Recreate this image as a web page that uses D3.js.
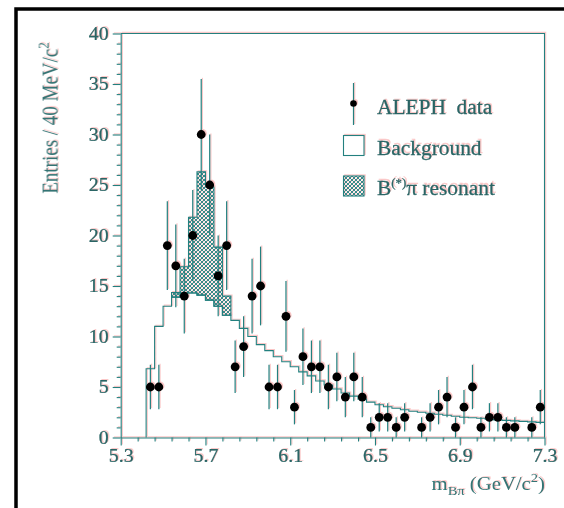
<!DOCTYPE html>
<html><head><meta charset="utf-8">
<script src="https://cdn.jsdelivr.net/npm/d3@7"></script>
<style>body{margin:0;background:#fff}svg{display:block}</style>
</head><body>
<script>
// ---------- data ----------
const xTicks = [5.3, 5.7, 6.1, 6.5, 6.9, 7.3];
const xTickLabels = ["5.3", "5.7", "6.1", "6.5", "6.9", "7.3"];
const yTicks = [0, 5, 10, 15, 20, 25, 30, 35, 40];
const binWidth = 0.04;

const dataMass = [5.44,5.48,5.52,5.56,5.60,5.64,5.68,5.72,5.76,5.80,5.84,5.88,5.92,5.96,6.00,6.04,6.08,6.12,6.16,6.20,6.24,6.28,6.32,6.36,6.40,6.44,6.48,6.52,6.56,6.60,6.64,6.72,6.76,6.80,6.84,6.88,6.92,6.96,7.00,7.04,7.08,7.12,7.16,7.24,7.28];
const dataCounts = [5,5,19,17,14,20,30,25,16,19,7,9,14,15,5,5,12,3,8,7,7,5,6,4,6,4,1,2,2,1,2,1,2,3,4,1,3,5,1,2,2,1,1,1,3];
const dataErrors = [2.2,2.2,4.4,4.1,3.7,4.5,5.5,5.0,4.0,4.4,2.6,3.0,3.7,3.9,2.2,2.2,3.5,1.7,2.8,2.6,2.6,2.2,2.4,2.0,2.4,2.0,1.0,1.4,1.4,1.0,1.4,1.0,1.4,1.7,2.0,1.0,1.7,2.2,1.0,1.4,1.4,1.0,1.0,1.0,1.7];

const bgLow = [5.42,5.46,5.50,5.54,5.58,5.62,5.66,5.70,5.74,5.78,5.82,5.86,5.90,5.94,5.98,6.02,6.06,6.10,6.14,6.18,6.22,6.26,6.30,6.34,6.38,6.42,6.46,6.50,6.54,6.58,6.62,6.66,6.70,6.74,6.78,6.82,6.86,6.90,6.94,6.98,7.02,7.06,7.10,7.14,7.18,7.22,7.26];
const bgValues = [6.8,11.0,13.0,13.9,14.3,14.3,14.1,13.6,13.0,12.1,11.6,10.8,10.0,9.2,8.6,8.0,7.5,7.0,6.5,6.1,5.6,5.2,4.8,4.4,4.1,3.8,3.5,3.25,3.05,2.9,2.75,2.6,2.5,2.4,2.3,2.2,2.1,2.0,1.95,1.9,1.8,1.75,1.7,1.65,1.6,1.55,1.5];

const resLow = [5.54,5.58,5.62,5.66,5.70,5.74,5.78];
const resValues = [0.45,2.6,7.5,12.2,11.2,5.85,1.9];

const legendLabels = ["ALEPH  data", "Background", "resonant"];

// ---------- setup ----------
const W = 564, H = 508;
const teal = "#23807f", textCol = "#2a6565", titleCol = "#347474";
const svg = d3.select("body").append("svg").attr("width", W).attr("height", H);
const defs = svg.append("defs");
const f = defs.append("filter").attr("id", "redify")
  .attr("x", "-5%").attr("y", "-5%").attr("width", "110%").attr("height", "110%");
f.append("feColorMatrix").attr("type", "matrix")
  .attr("values", "0 0 0 0 0.93  0 0 0 0 0.36  0 0 0 0 0.36  0 0 0 0.6 0");
const pat = defs.append("pattern").attr("id", "hatch").attr("patternUnits", "userSpaceOnUse")
  .attr("width", 4).attr("height", 4);
pat.append("path").attr("d", "M0,0 L4,4 M4,0 L0,4 M-1,3 L1,5 M3,-1 L5,1 M3,5 L5,3 M-1,1 L1,-1")
  .attr("stroke", teal).attr("stroke-width", 0.9);

// red misregistration copy
svg.append("use").attr("href", "#main").attr("transform", "translate(1.2,-1.1)").attr("filter", "url(#redify)");
const g = svg.append("g").attr("id", "main");

const x = d3.scaleLinear().domain([5.3, 7.3]).range([120.7, 544.5]);
const y = d3.scaleLinear().domain([0, 40]).range([437.5, 33.5]);

// frame top/right
g.append("path").attr("d", `M${x(5.3)},${y(40)}H${x(7.3)}V${y(0)}`)
  .attr("fill", "none").attr("stroke", teal).attr("stroke-width", 1.1);

// axes
const font = "'Liberation Serif', 'Times New Roman', serif";
const yMinor = d3.range(0, 41, 1).filter(v => v % 5 !== 0);
const xMinor = d3.range(0, 26).map(i => 5.3 + i * 0.08).filter((v, i) => i % 5 !== 0);

const yAxisG = g.append("g").attr("transform", `translate(${x(5.3)},0)`);
yAxisG.append("g").call(d3.axisLeft(y).tickValues(yMinor).tickSize(4).tickSizeOuter(0).tickFormat(""))
  .call(s => s.select(".domain").remove());
yAxisG.append("g").call(d3.axisLeft(y).tickValues(yTicks).tickSize(8).tickSizeOuter(0).tickPadding(3).tickFormat(d3.format("d")));
const xAxisG = g.append("g").attr("transform", `translate(0,${y(0)})`);
xAxisG.append("g").call(d3.axisBottom(x).tickValues(xMinor).tickSize(4).tickSizeOuter(0).tickFormat(""))
  .call(s => s.select(".domain").remove());
xAxisG.append("g").call(d3.axisBottom(x).tickValues(xTicks).tickSize(8).tickSizeOuter(0).tickPadding(4)
  .tickFormat((d, i) => xTickLabels[i]));
[yAxisG, xAxisG].forEach(a => {
  a.selectAll("path,line").attr("stroke", teal).attr("stroke-width", 1.1);
  a.selectAll("text").attr("fill", textCol).attr("font-family", font).attr("font-size", 18)
    .attr("stroke", textCol).attr("stroke-width", 0.25).attr("transform", "scale(1.1,1)");
});

// resonant stacked area
const bgAt = v => bgValues[bgLow.findIndex(b => Math.abs(b - v) < 1e-6)];
let d = "";
resLow.forEach((lo, i) => {
  const top = bgAt(lo) + resValues[i];
  d += (i === 0 ? `M${x(lo)},${y(bgAt(lo))}L${x(lo)},${y(top)}` : `L${x(lo)},${y(top)}`) + `L${x(lo + binWidth)},${y(top)}`;
});
for (let i = resLow.length - 1; i >= 0; i--) {
  const lo = resLow[i];
  d += `L${x(lo + binWidth)},${y(bgAt(lo))}L${x(lo)},${y(bgAt(lo))}`;
}
d += "Z";
g.append("path").attr("d", d).attr("fill", "url(#hatch)").attr("stroke", teal).attr("stroke-width", 1.1);

// background histogram
let bd = `M${x(bgLow[0])},${y(0)}`;
bgLow.forEach((lo, i) => { bd += `L${x(lo)},${y(bgValues[i])}L${x(lo + binWidth)},${y(bgValues[i])}`; });
g.append("path").attr("d", bd).attr("fill", "none").attr("stroke", teal).attr("stroke-width", 1.1);

// data points
const pts = g.append("g");
dataMass.forEach((m, i) => {
  pts.append("line").attr("x1", x(m)).attr("x2", x(m))
    .attr("y1", y(Math.max(0, dataCounts[i] - dataErrors[i]))).attr("y2", y(dataCounts[i] + dataErrors[i]))
    .attr("stroke", teal).attr("stroke-width", 1.2);
  pts.append("circle").attr("cx", x(m)).attr("cy", y(dataCounts[i])).attr("r", 4.4).attr("fill", "#000");
});

// legend
const lg = g.append("g").attr("font-family", font).attr("font-size", 20).attr("fill", textCol)
  .attr("stroke", textCol).attr("stroke-width", 0.25);
lg.append("line").attr("x1", 353.5).attr("x2", 353.5).attr("y1", 83).attr("y2", 125).attr("stroke", teal).attr("stroke-width", 1.2);
lg.append("circle").attr("cx", 353.5).attr("cy", 103.5).attr("r", 3.3).attr("fill", "#000").attr("stroke", "none");
lg.append("text").attr("transform", "translate(377,114) scale(1.07,1)").attr("xml:space", "preserve").text(legendLabels[0]);
lg.append("rect").attr("x", 343.5).attr("y", 135.5).attr("width", 20.5).attr("height", 20).attr("fill", "#fff").attr("stroke", teal).attr("stroke-width", 1.1);
lg.append("text").attr("transform", "translate(377,154.5) scale(1.07,1)").text(legendLabels[1]);
lg.append("rect").attr("x", 343.5).attr("y", 176).attr("width", 20.5).attr("height", 20).attr("fill", "url(#hatch)").attr("stroke", teal).attr("stroke-width", 1.1);
const t3 = lg.append("text").attr("transform", "translate(377,194.5) scale(1.07,1)");
t3.append("tspan").text("B");
t3.append("tspan").attr("dy", -8).attr("font-size", 12).text("(*)");
t3.append("tspan").attr("dy", 8).text("\u03c0 " + legendLabels[2]);

// axis titles
const yt = g.append("text").attr("transform", "translate(58,118) scale(1.2,1) rotate(-90)").attr("text-anchor", "middle")
  .attr("font-family", font).attr("font-size", 19).attr("fill", titleCol);
yt.append("tspan").text("Entries / 40 MeV/c");
yt.append("tspan").attr("dy", -8).attr("font-size", 13).text("2");

const xt = g.append("text").attr("transform", "translate(545,490) scale(1.12,1)").attr("text-anchor", "end")
  .attr("font-family", font).attr("font-size", 18.5).attr("fill", titleCol);
xt.append("tspan").text("m");
xt.append("tspan").attr("dy", 5).attr("font-size", 13).text("B\u03c0");
xt.append("tspan").attr("dy", -5).text(" (GeV/c");
xt.append("tspan").attr("dy", -8).attr("font-size", 13).text("2");
xt.append("tspan").attr("dy", 8).text(")");

// outer black frame
svg.append("path").attr("d", `M16,${H}V9H${W}`).attr("fill", "none").attr("stroke", "#000").attr("stroke-width", 3.5);
</script>
</body></html>
